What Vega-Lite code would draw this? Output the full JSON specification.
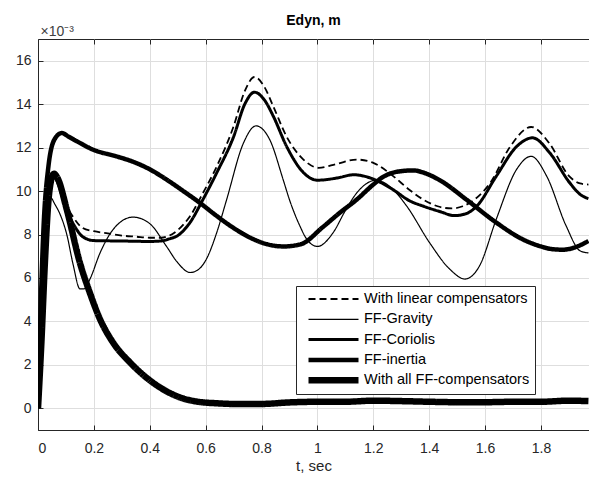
{
  "$schema": "https://vega.github.io/schema/vega-lite/v6.json",
  "autosize": "none",
  "padding": {"left": 38, "top": 39, "right": 0, "bottom": 53},
  "width": 551,
  "height": 391,
  "background": "white",
  "title": {"text": "Edyn, m", "fontSize": 14, "fontWeight": "bold", "font": "Liberation Sans", "color": "#000", "anchor": "middle", "baseline": "alphabetic", "offset": -15},
  "config": {
    "view": {"stroke": "#262626", "strokeWidth": 1},
    "axis": {"labelFont": "Liberation Sans", "titleFont": "Liberation Sans", "labelColor": "#262626", "titleColor": "#262626", "domainColor": "#262626", "tickColor": "#262626", "gridColor": "#dedede", "gridWidth": 1, "labelFontSize": 14, "titleFontSize": 15, "titleFontWeight": "normal"},
    "legend": {"orient": "none", "legendX": 258, "legendY": 247, "strokeColor": "#262626", "fillColor": "white", "padding": 5, "labelFont": "Liberation Sans", "labelFontSize": 14.5, "labelColor": "#000", "labelOffset": 2, "labelLimit": 400, "symbolSize": 2500, "symbolType": "stroke", "symbolStrokeColor": "#000", "clipHeight": 16, "rowPadding": 4.3, "symbolOffset": 4}
  },
  "datasets": {
    "curves": [
      {"s":"With linear compensators","t":0,"v":0},{"s":"With linear compensators","t":0.01,"v":3.5},{"s":"With linear compensators","t":0.02,"v":7.0},{"s":"With linear compensators","t":0.03,"v":9.3},{"s":"With linear compensators","t":0.04,"v":10.3},{"s":"With linear compensators","t":0.055,"v":10.75},{"s":"With linear compensators","t":0.07,"v":10.5},{"s":"With linear compensators","t":0.1,"v":9.4},{"s":"With linear compensators","t":0.126,"v":8.8},{"s":"With linear compensators","t":0.16,"v":8.3},{"s":"With linear compensators","t":0.2,"v":8.15},{"s":"With linear compensators","t":0.25,"v":8.05},{"s":"With linear compensators","t":0.3,"v":7.95},{"s":"With linear compensators","t":0.35,"v":7.9},{"s":"With linear compensators","t":0.4,"v":7.85},{"s":"With linear compensators","t":0.44,"v":7.85},{"s":"With linear compensators","t":0.47,"v":7.95},{"s":"With linear compensators","t":0.5,"v":8.2},{"s":"With linear compensators","t":0.544,"v":8.84},{"s":"With linear compensators","t":0.59,"v":9.9},{"s":"With linear compensators","t":0.64,"v":11.14},{"s":"With linear compensators","t":0.7,"v":12.98},{"s":"With linear compensators","t":0.74,"v":14.6},{"s":"With linear compensators","t":0.775,"v":15.25},{"s":"With linear compensators","t":0.81,"v":14.8},{"s":"With linear compensators","t":0.842,"v":13.9},{"s":"With linear compensators","t":0.89,"v":12.5},{"s":"With linear compensators","t":0.95,"v":11.45},{"s":"With linear compensators","t":1.005,"v":11.07},{"s":"With linear compensators","t":1.07,"v":11.25},{"s":"With linear compensators","t":1.14,"v":11.45},{"s":"With linear compensators","t":1.2,"v":11.3},{"s":"With linear compensators","t":1.27,"v":10.7},{"s":"With linear compensators","t":1.33,"v":10.05},{"s":"With linear compensators","t":1.38,"v":9.6},{"s":"With linear compensators","t":1.43,"v":9.3},{"s":"With linear compensators","t":1.48,"v":9.2},{"s":"With linear compensators","t":1.52,"v":9.3},{"s":"With linear compensators","t":1.55,"v":9.5},{"s":"With linear compensators","t":1.62,"v":10.4},{"s":"With linear compensators","t":1.69,"v":12.05},{"s":"With linear compensators","t":1.765,"v":12.95},{"s":"With linear compensators","t":1.83,"v":12.2},{"s":"With linear compensators","t":1.9,"v":10.7},{"s":"With linear compensators","t":1.94,"v":10.35},{"s":"With linear compensators","t":1.97,"v":10.3},

      {"s":"FF-Gravity","t":0,"v":0},{"s":"FF-Gravity","t":0.01,"v":3.5},{"s":"FF-Gravity","t":0.02,"v":6.8},{"s":"FF-Gravity","t":0.03,"v":8.8},{"s":"FF-Gravity","t":0.045,"v":9.7},{"s":"FF-Gravity","t":0.06,"v":9.4},{"s":"FF-Gravity","t":0.08,"v":8.9},{"s":"FF-Gravity","t":0.103,"v":8.0},{"s":"FF-Gravity","t":0.126,"v":6.6},{"s":"FF-Gravity","t":0.15,"v":5.5},{"s":"FF-Gravity","t":0.165,"v":5.5},{"s":"FF-Gravity","t":0.186,"v":5.95},{"s":"FF-Gravity","t":0.222,"v":7.15},{"s":"FF-Gravity","t":0.27,"v":8.25},{"s":"FF-Gravity","t":0.34,"v":8.8},{"s":"FF-Gravity","t":0.4,"v":8.5},{"s":"FF-Gravity","t":0.46,"v":7.45},{"s":"FF-Gravity","t":0.5,"v":6.7},{"s":"FF-Gravity","t":0.544,"v":6.25},{"s":"FF-Gravity","t":0.57,"v":6.35},{"s":"FF-Gravity","t":0.604,"v":6.9},{"s":"FF-Gravity","t":0.64,"v":8.1},{"s":"FF-Gravity","t":0.675,"v":9.6},{"s":"FF-Gravity","t":0.735,"v":12.2},{"s":"FF-Gravity","t":0.78,"v":13.0},{"s":"FF-Gravity","t":0.83,"v":12.35},{"s":"FF-Gravity","t":0.878,"v":10.5},{"s":"FF-Gravity","t":0.9,"v":9.6},{"s":"FF-Gravity","t":0.937,"v":8.4},{"s":"FF-Gravity","t":0.961,"v":7.8},{"s":"FF-Gravity","t":1.0,"v":7.45},{"s":"FF-Gravity","t":1.057,"v":8.1},{"s":"FF-Gravity","t":1.1,"v":9.1},{"s":"FF-Gravity","t":1.14,"v":9.9},{"s":"FF-Gravity","t":1.21,"v":10.5},{"s":"FF-Gravity","t":1.26,"v":10.2},{"s":"FF-Gravity","t":1.32,"v":9.3},{"s":"FF-Gravity","t":1.4,"v":7.65},{"s":"FF-Gravity","t":1.474,"v":6.4},{"s":"FF-Gravity","t":1.528,"v":5.95},{"s":"FF-Gravity","t":1.58,"v":6.55},{"s":"FF-Gravity","t":1.64,"v":8.7},{"s":"FF-Gravity","t":1.713,"v":11.0},{"s":"FF-Gravity","t":1.765,"v":11.6},{"s":"FF-Gravity","t":1.82,"v":10.7},{"s":"FF-Gravity","t":1.89,"v":8.4},{"s":"FF-Gravity","t":1.94,"v":7.25},{"s":"FF-Gravity","t":1.97,"v":7.15},

      {"s":"FF-Coriolis","t":0,"v":0},{"s":"FF-Coriolis","t":0.01,"v":3.5},{"s":"FF-Coriolis","t":0.02,"v":7.0},{"s":"FF-Coriolis","t":0.03,"v":9.3},{"s":"FF-Coriolis","t":0.04,"v":10.3},{"s":"FF-Coriolis","t":0.055,"v":10.75},{"s":"FF-Coriolis","t":0.07,"v":10.4},{"s":"FF-Coriolis","t":0.1,"v":9.2},{"s":"FF-Coriolis","t":0.126,"v":8.5},{"s":"FF-Coriolis","t":0.16,"v":7.9},{"s":"FF-Coriolis","t":0.2,"v":7.72},{"s":"FF-Coriolis","t":0.3,"v":7.7},{"s":"FF-Coriolis","t":0.4,"v":7.68},{"s":"FF-Coriolis","t":0.44,"v":7.7},{"s":"FF-Coriolis","t":0.47,"v":7.8},{"s":"FF-Coriolis","t":0.5,"v":7.95},{"s":"FF-Coriolis","t":0.544,"v":8.55},{"s":"FF-Coriolis","t":0.59,"v":9.6},{"s":"FF-Coriolis","t":0.64,"v":10.85},{"s":"FF-Coriolis","t":0.7,"v":12.5},{"s":"FF-Coriolis","t":0.74,"v":14.0},{"s":"FF-Coriolis","t":0.775,"v":14.55},{"s":"FF-Coriolis","t":0.81,"v":14.2},{"s":"FF-Coriolis","t":0.842,"v":13.45},{"s":"FF-Coriolis","t":0.89,"v":12.05},{"s":"FF-Coriolis","t":0.95,"v":10.85},{"s":"FF-Coriolis","t":1.0,"v":10.5},{"s":"FF-Coriolis","t":1.07,"v":10.6},{"s":"FF-Coriolis","t":1.13,"v":10.75},{"s":"FF-Coriolis","t":1.19,"v":10.6},{"s":"FF-Coriolis","t":1.27,"v":10.07},{"s":"FF-Coriolis","t":1.33,"v":9.55},{"s":"FF-Coriolis","t":1.38,"v":9.3},{"s":"FF-Coriolis","t":1.44,"v":9.05},{"s":"FF-Coriolis","t":1.49,"v":8.87},{"s":"FF-Coriolis","t":1.53,"v":8.95},{"s":"FF-Coriolis","t":1.57,"v":9.3},{"s":"FF-Coriolis","t":1.64,"v":10.68},{"s":"FF-Coriolis","t":1.713,"v":12.05},{"s":"FF-Coriolis","t":1.77,"v":12.45},{"s":"FF-Coriolis","t":1.832,"v":11.75},{"s":"FF-Coriolis","t":1.903,"v":10.38},{"s":"FF-Coriolis","t":1.94,"v":9.85},{"s":"FF-Coriolis","t":1.97,"v":9.65},

      {"s":"FF-inertia","t":0,"v":0},{"s":"FF-inertia","t":0.007,"v":3.5},{"s":"FF-inertia","t":0.019,"v":8.1},{"s":"FF-inertia","t":0.037,"v":11.1},{"s":"FF-inertia","t":0.06,"v":12.4},{"s":"FF-inertia","t":0.085,"v":12.67},{"s":"FF-inertia","t":0.11,"v":12.5},{"s":"FF-inertia","t":0.138,"v":12.3},{"s":"FF-inertia","t":0.198,"v":11.9},{"s":"FF-inertia","t":0.28,"v":11.6},{"s":"FF-inertia","t":0.34,"v":11.35},{"s":"FF-inertia","t":0.4,"v":11.0},{"s":"FF-inertia","t":0.46,"v":10.53},{"s":"FF-inertia","t":0.52,"v":10.0},{"s":"FF-inertia","t":0.58,"v":9.45},{"s":"FF-inertia","t":0.64,"v":8.85},{"s":"FF-inertia","t":0.7,"v":8.3},{"s":"FF-inertia","t":0.76,"v":7.85},{"s":"FF-inertia","t":0.82,"v":7.55},{"s":"FF-inertia","t":0.88,"v":7.45},{"s":"FF-inertia","t":0.94,"v":7.55},{"s":"FF-inertia","t":1.02,"v":8.35},{"s":"FF-inertia","t":1.08,"v":9.0},{"s":"FF-inertia","t":1.14,"v":9.6},{"s":"FF-inertia","t":1.2,"v":10.3},{"s":"FF-inertia","t":1.235,"v":10.65},{"s":"FF-inertia","t":1.29,"v":10.9},{"s":"FF-inertia","t":1.343,"v":10.95},{"s":"FF-inertia","t":1.39,"v":10.8},{"s":"FF-inertia","t":1.438,"v":10.5},{"s":"FF-inertia","t":1.534,"v":9.6},{"s":"FF-inertia","t":1.64,"v":8.55},{"s":"FF-inertia","t":1.736,"v":7.77},{"s":"FF-inertia","t":1.8,"v":7.45},{"s":"FF-inertia","t":1.844,"v":7.32},{"s":"FF-inertia","t":1.88,"v":7.3},{"s":"FF-inertia","t":1.915,"v":7.38},{"s":"FF-inertia","t":1.97,"v":7.7},

      {"s":"With all FF-compensators","t":0,"v":0},{"s":"With all FF-compensators","t":0.012,"v":3.0},{"s":"With all FF-compensators","t":0.025,"v":6.8},{"s":"With all FF-compensators","t":0.037,"v":9.5},{"s":"With all FF-compensators","t":0.047,"v":10.5},{"s":"With all FF-compensators","t":0.057,"v":10.8},{"s":"With all FF-compensators","t":0.07,"v":10.6},{"s":"With all FF-compensators","t":0.103,"v":9.15},{"s":"With all FF-compensators","t":0.15,"v":6.7},{"s":"With all FF-compensators","t":0.186,"v":5.3},{"s":"With all FF-compensators","t":0.222,"v":4.1},{"s":"With all FF-compensators","t":0.27,"v":3.0},{"s":"With all FF-compensators","t":0.33,"v":2.1},{"s":"With all FF-compensators","t":0.389,"v":1.4},{"s":"With all FF-compensators","t":0.448,"v":0.87},{"s":"With all FF-compensators","t":0.508,"v":0.5},{"s":"With all FF-compensators","t":0.568,"v":0.31},{"s":"With all FF-compensators","t":0.64,"v":0.23},{"s":"With all FF-compensators","t":0.7,"v":0.2},{"s":"With all FF-compensators","t":0.8,"v":0.2},{"s":"With all FF-compensators","t":0.9,"v":0.27},{"s":"With all FF-compensators","t":1.0,"v":0.3},{"s":"With all FF-compensators","t":1.1,"v":0.3},{"s":"With all FF-compensators","t":1.2,"v":0.35},{"s":"With all FF-compensators","t":1.3,"v":0.33},{"s":"With all FF-compensators","t":1.4,"v":0.3},{"s":"With all FF-compensators","t":1.5,"v":0.28},{"s":"With all FF-compensators","t":1.6,"v":0.28},{"s":"With all FF-compensators","t":1.7,"v":0.3},{"s":"With all FF-compensators","t":1.8,"v":0.3},{"s":"With all FF-compensators","t":1.9,"v":0.35},{"s":"With all FF-compensators","t":1.97,"v":0.33}
    ]
  },
  "data": {"name": "curves"},
  "resolve": {"axis": {"x": "independent", "y": "independent"}},
  "layer": [
    {
      "mark": {"type": "line", "color": "#000", "interpolate": "monotone", "clip": true},
      "encoding": {
        "x": {"field": "t", "type": "quantitative", "scale": {"domain": [0, 1.972], "nice": false, "zero": false},
          "axis": {"orient": "bottom", "values": [0,0.2,0.4,0.6,0.8,1,1.2,1.4,1.6,1.8], "format": "~g", "grid": true, "ticks": false, "labelPadding": 11, "title": "t, sec", "titlePadding": 3}},
        "y": {"field": "v", "type": "quantitative", "scale": {"domain": [-1, 17], "nice": false, "zero": false},
          "axis": {"orient": "left", "values": [0,2,4,6,8,10,12,14,16], "grid": true, "ticks": false, "labelPadding": 7, "title": "×10⁻³", "titleAngle": 0, "titleAlign": "left", "titleBaseline": "alphabetic", "titleX": 2, "titleY": -4, "titleFontSize": 14, "titleColor": "#404040"}},
        "detail": {"field": "s"},
        "strokeWidth": {"field": "s", "type": "nominal",
          "scale": {"type": "ordinal", "domain": ["With linear compensators","FF-Gravity","FF-Coriolis","FF-inertia","With all FF-compensators"], "range": [1.8, 1.2, 3, 4.5, 6.5]},
          "legend": {"title": null, "labelExpr": "datum.label + '\u2003\u2003\u2003\u2003'"}},
        "strokeDash": {"field": "s", "type": "nominal",
          "scale": {"type": "ordinal", "domain": ["With linear compensators","FF-Gravity","FF-Coriolis","FF-inertia","With all FF-compensators"], "range": [[7,4],[1,0],[1,0],[1,0],[1,0]]},
          "legend": {"title": null, "labelExpr": "datum.label + '\u2003\u2003\u2003\u2003'"}}
      }
    },
    {
      "mark": {"type": "line", "opacity": 0, "clip": true},
      "encoding": {
        "x": {"field": "t", "type": "quantitative", "axis": {"orient": "bottom", "values": [0,0.2,0.4,0.6,0.8,1,1.2,1.4,1.6,1.8], "labels": false, "domain": false, "grid": false, "tickSize": -5, "title": null}},
        "y": {"field": "v", "type": "quantitative", "axis": {"orient": "left", "values": [0,2,4,6,8,10,12,14,16], "labels": false, "domain": false, "grid": false, "tickSize": -5, "title": null}},
        "detail": {"field": "s"}
      }
    },
    {
      "mark": {"type": "line", "opacity": 0, "clip": true},
      "encoding": {
        "x": {"field": "t", "type": "quantitative", "axis": {"orient": "top", "values": [0,0.2,0.4,0.6,0.8,1,1.2,1.4,1.6,1.8], "labels": false, "domain": false, "grid": false, "tickSize": -5, "title": null}},
        "y": {"field": "v", "type": "quantitative", "axis": null},
        "detail": {"field": "s"}
      }
    }
  ]
}
